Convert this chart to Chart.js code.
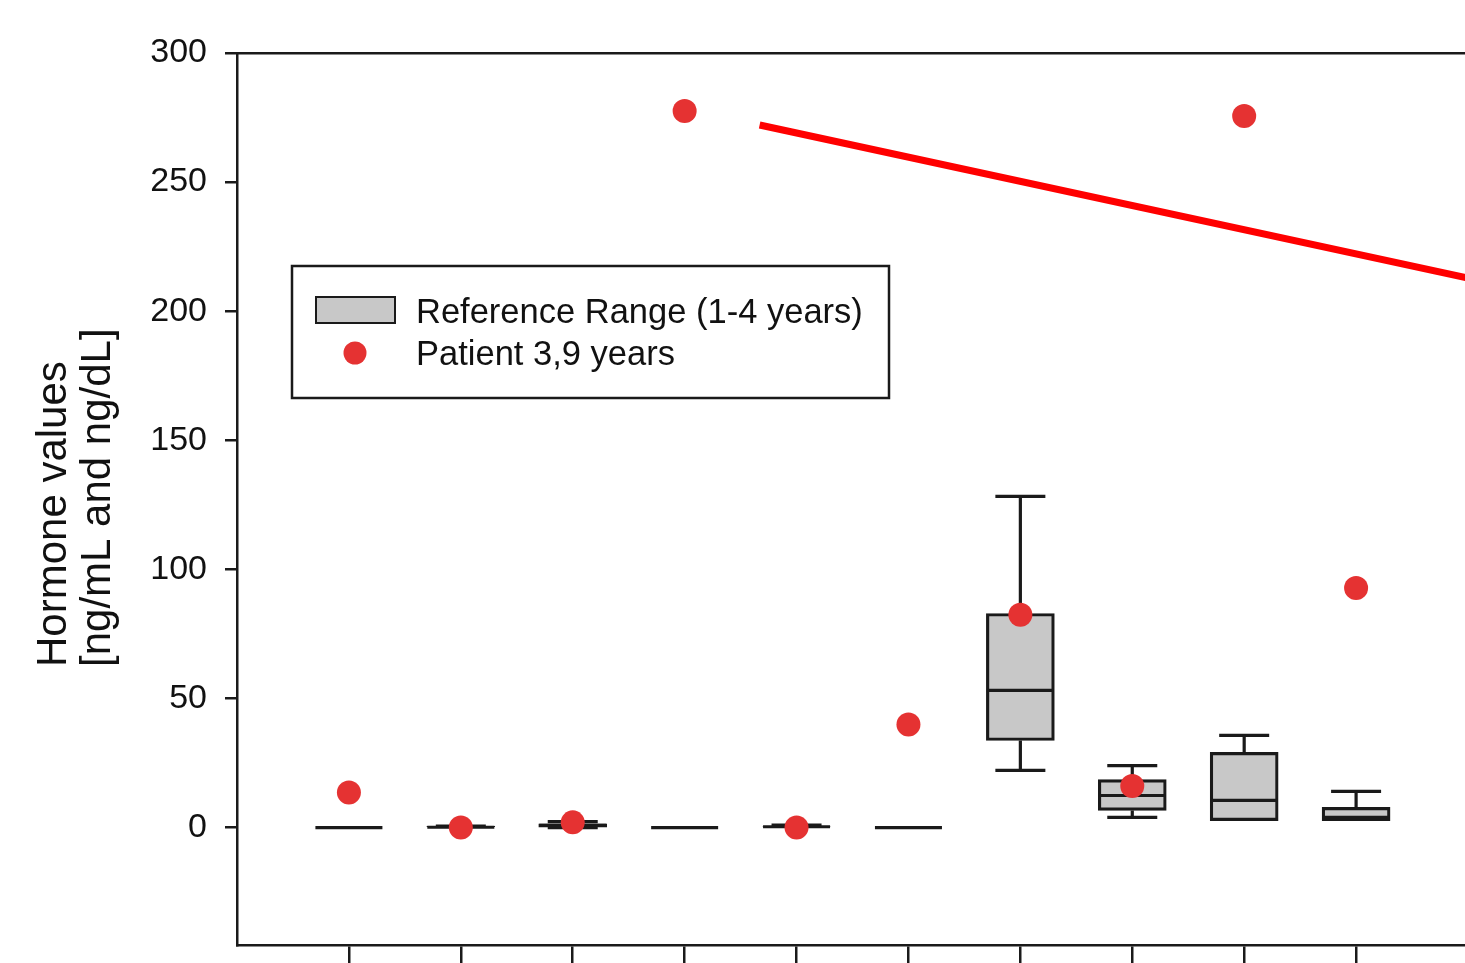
<!DOCTYPE html>
<html>
<head>
<meta charset="utf-8">
<script src="https://cdn.jsdelivr.net/npm/chart.js@4.4.0/dist/chart.umd.min.js"></script>
<style>
  html, body { margin: 0; padding: 0; overflow: hidden; background: #fff; }
</style>
</head>
<body>
<canvas id="hormoneChart" width="1480" height="963"></canvas>
<script>
// box plot data, one entry per category
const categories = [1, 2, 3, 4, 5, 6, 7, 8, 9, 10];
const whiskerLow = [0, 0, 0, 0, 0, 0, 22.1, 3.9, 2.7, 2.7];
const q1 = [0, 0, 0.1, 0, 0, 0, 33.7, 6.6, 2.7, 2.7];
const median = [0, 0.1, 0.8, 0, 0.3, 0, 53.1, 12.4, 10.5, 3.9];
const q3 = [0, 0.3, 1.4, 0, 0.5, 0, 82.9, 18.6, 29.1, 7.8];
const whiskerHigh = [0, 0.6, 2.3, 0, 0.9, 0, 128.3, 24.0, 35.7, 14.0];
const patient = [13.6, 0, 2, 277.5, 0, 39.9, 82.4, 16.1, 275.6, 92.8];
const redLineX = [4.67, 11];
const redLineY = [272.1, 212.8];
const yTicks = [0, 50, 100, 150, 200, 250, 300];

const FONT = "'Liberation Sans', Arial, sans-serif";
const INK = '#1a1a1a';
const BOX_FILL = '#c8c8c8';
const DOT = '#e53232';

// whiskers, caps and medians on top of the floating bars
const boxExtras = {
  id: 'boxExtras',
  afterDatasetDraw(chart, args) {
    if (args.index !== 0) return;
    const { ctx, scales: { x, y } } = chart;
    ctx.save();
    ctx.strokeStyle = INK;
    ctx.lineWidth = 3.2;
    categories.forEach((c, i) => {
      const px = x.getPixelForValue(c);
      const line = (x1, y1, x2, y2) => {
        ctx.beginPath(); ctx.moveTo(x1, y1); ctx.lineTo(x2, y2); ctx.stroke();
      };
      if (whiskerHigh[i] > q3[i]) {
        line(px, y.getPixelForValue(q3[i]), px, y.getPixelForValue(whiskerHigh[i]));
        line(px - 25, y.getPixelForValue(whiskerHigh[i]), px + 25, y.getPixelForValue(whiskerHigh[i]));
      }
      if (whiskerLow[i] < q1[i]) {
        line(px, y.getPixelForValue(q1[i]), px, y.getPixelForValue(whiskerLow[i]));
        line(px - 25, y.getPixelForValue(whiskerLow[i]), px + 25, y.getPixelForValue(whiskerLow[i]));
      }
      const my = y.getPixelForValue(median[i]);
      line(px - 33.5, my, px + 33.5, my);
    });
    ctx.restore();
  }
};

// rotated two-line y title and the boxed legend
const decorations = {
  id: 'decorations',
  afterDraw(chart) {
    const { ctx, chartArea } = chart;
    ctx.save();
    ctx.fillStyle = '#111';
    ctx.font = '42px ' + FONT;
    ctx.textAlign = 'left';
    ctx.textBaseline = 'alphabetic';
    ctx.translate(66, 667);
    ctx.rotate(-Math.PI / 2);
    ctx.fillText('Hormone values', 0, 0);
    ctx.fillText('[ng/mL and ng/dL]', 0, 44);
    ctx.restore();

    const lx = chartArea.left + 55, ly = chartArea.top + 213;
    ctx.save();
    ctx.fillStyle = '#fff';
    ctx.fillRect(lx, ly, 597, 132);
    ctx.strokeStyle = INK;
    ctx.lineWidth = 2.5;
    ctx.strokeRect(lx, ly, 597, 132);
    ctx.fillStyle = BOX_FILL;
    ctx.fillRect(lx + 24, ly + 31, 79, 26);
    ctx.lineWidth = 2;
    ctx.strokeRect(lx + 24, ly + 31, 79, 26);
    ctx.fillStyle = DOT;
    ctx.beginPath();
    ctx.arc(lx + 63, ly + 87, 11.5, 0, Math.PI * 2);
    ctx.fill();
    ctx.fillStyle = '#111';
    ctx.font = '34.5px ' + FONT;
    ctx.fillText('Reference Range (1-4 years)', lx + 124, ly + 57);
    ctx.fillText('Patient 3,9 years', lx + 124, ly + 99);
    ctx.restore();
  }
};

window.addEventListener('load', () => {
  const ctx = document.getElementById('hormoneChart').getContext('2d');
  window.hormoneChart = new Chart(ctx, {
    type: 'bar',
    data: {
      datasets: [{
        type: 'bar',
        label: 'Reference Range (1-4 years)',
        data: categories.map((c, i) => ({ x: c, y: [q1[i], q3[i]] })),
        backgroundColor: BOX_FILL,
        borderColor: INK,
        borderWidth: 3.2,
        borderSkipped: false,
        barThickness: 68,
        order: 2
      }, {
        type: 'line',
        label: 'line',
        data: redLineX.map((v, i) => ({ x: v, y: redLineY[i] })),
        borderColor: '#ff0000',
        borderWidth: 7,
        pointRadius: 0,
        order: 1
      }, {
        type: 'scatter',
        label: 'Patient 3,9 years',
        data: categories.map((c, i) => ({ x: c, y: patient[i] })),
        backgroundColor: DOT,
        borderWidth: 0,
        pointRadius: 12,
        order: 0
      }]
    },
    options: {
      responsive: false,
      animation: false,
      devicePixelRatio: 1,
      layout: { padding: { top: 53, right: 11, bottom: 0, left: 0 } },
      plugins: { legend: { display: false }, tooltip: { enabled: false } },
      scales: {
        x: {
          type: 'linear',
          min: 0,
          max: 11,
          offset: false,
          afterBuildTicks: s => { s.ticks = categories.map(v => ({ value: v })); },
          grid: { offset: false, drawOnChartArea: false, drawTicks: true, tickLength: 18, color: INK, lineWidth: 2.5 },
          border: { display: true, color: INK, width: 2.5 },
          ticks: { display: false }
        },
        x2: {
          type: 'linear',
          position: 'top',
          min: 0,
          max: 11,
          offset: false,
          grid: { display: false, drawTicks: false },
          border: { display: true, color: INK, width: 2.5 },
          ticks: { display: false }
        },
        y: {
          min: -45.5,
          max: 300,
          afterBuildTicks: s => { s.ticks = yTicks.map(v => ({ value: v })); },
          afterFit: s => { s.width = 237; s.paddingTop = 0; s.paddingBottom = 0; },
          grid: { drawOnChartArea: false, drawTicks: true, tickLength: 12, color: INK, lineWidth: 2.5 },
          border: { display: true, color: INK, width: 2.5 },
          ticks: { font: { family: FONT, size: 34 }, color: '#111', padding: 18 }
        }
      }
    },
    plugins: [boxExtras, decorations]
  });
});
</script>
</body>
</html>
